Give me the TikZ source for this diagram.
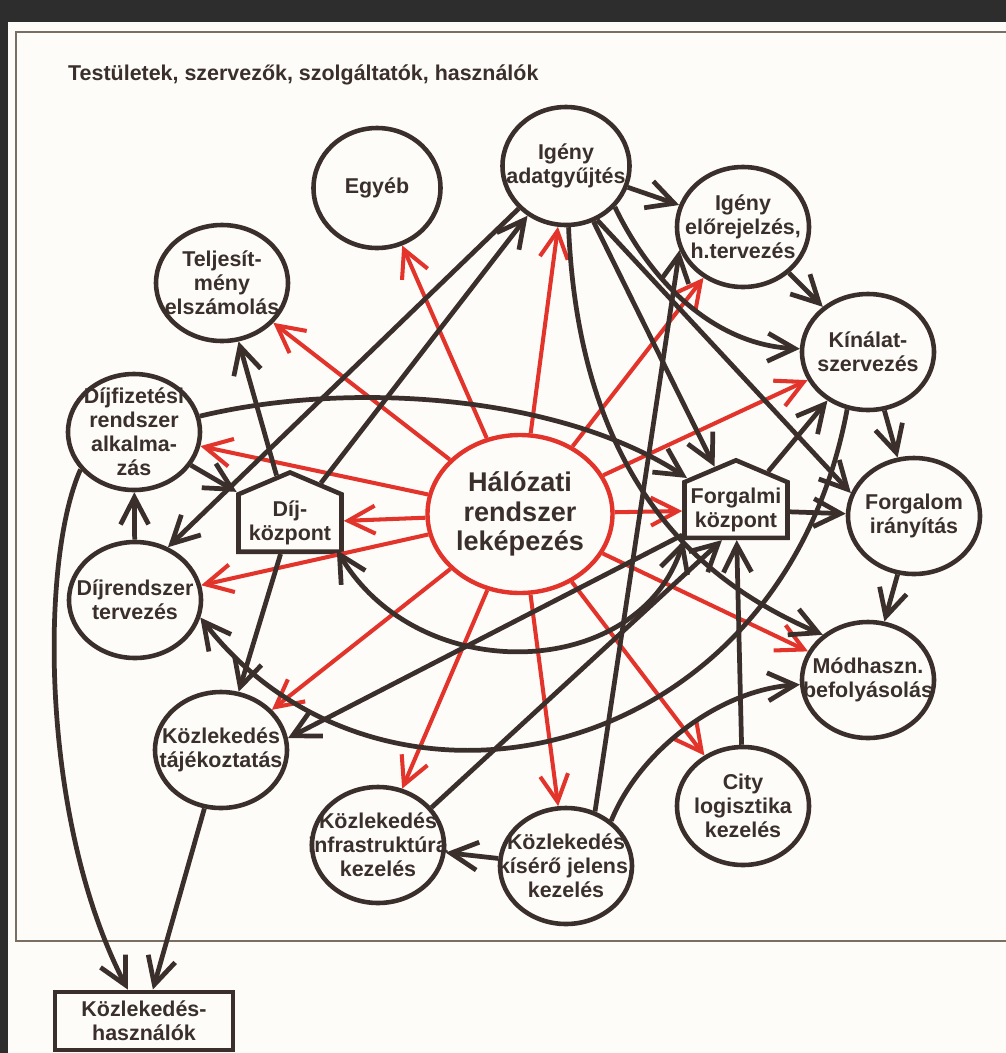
\documentclass[tikz,border=0pt]{standalone}
\usepackage{fontspec}
\setmainfont{Liberation Sans}
\usepackage{tikz}
\usetikzlibrary{shapes.geometric,shapes.symbols,arrows.meta}
\definecolor{sotet}{HTML}{3A2F2B}
\definecolor{piros}{HTML}{E2342B}
\definecolor{hatter}{HTML}{2D2D2D}
\definecolor{papir}{HTML}{FDFCF9}
\definecolor{keretszin}{HTML}{7A6E63}

\begin{document}
\begin{tikzpicture}[x=0.2mm,y=0.2mm]
      \tikzstyle{kor}=[ellipse, draw=sotet, line width=2.6pt, minimum width=26.4mm, minimum height=23.2mm, inner sep=-6mm, align=center, text=sotet, font=\bfseries\fontsize{12.2}{13.6}\selectfont]
      \tikzstyle{haz}=[signal, signal to=north, signal pointer angle=134, draw=sotet, line width=2.6pt, minimum width=20.6mm, minimum height=15.4mm, inner sep=1mm, align=center, text=sotet, font=\bfseries\fontsize{12.2}{13.6}\selectfont]
      \tikzstyle{doboz}=[rectangle, draw=sotet, line width=2.8pt, minimum width=35.6mm, minimum height=11.6mm, align=center, text=sotet, font=\bfseries\fontsize{12.2}{13.6}\selectfont]
      \tikzstyle{fleche}=[-{Straight Barb[length=5.4mm,width=5.6mm]}, draw=sotet, line width=2.7pt]
      \tikzstyle{ketfleche}=[{Straight Barb[length=5.4mm,width=5.6mm]}-{Straight Barb[length=5.4mm,width=5.6mm]}, draw=sotet, line width=2.7pt]
      \tikzstyle{pfleche}=[-{Straight Barb[length=5.4mm,width=5.6mm]}, draw=piros, line width=2.3pt]

      \useasboundingbox (0,0) rectangle (1006,-1053);
      \fill[hatter] (0,0) rectangle (1006,-1053);
      \fill[papir] (8,-22) rectangle (1006,-1053);
      \draw[keretszin, line width=1.2pt] (1006,-32) -- (16,-32) -- (16,-941) -- (1006,-941);

      \node[anchor=west, text=sotet, font=\bfseries\fontsize{12.2}{14}\selectfont] (cim) at (62,-75) {Testületek, szervezők, szolgáltatók, használók};

      \node[kor] (telj) at (222,-283) {Teljesít-\\mény\\elszámolás};
      \node[kor, minimum width=25.4mm, minimum height=24mm] (egyeb) at (377,-188) {Egyéb};
      \node[kor, minimum width=25.4mm, minimum height=23.6mm] (igad) at (566,-166) {Igény\\adatgyűjtés};
      \node[kor, minimum height=24mm] (igelo) at (743,-227) {Igény\\előrejelzés,\\h.tervezés};
      \node[kor] (kin) at (868,-352) {Kínálat-\\szervezés};
      \node[kor] (djfr) at (134,-432) {Díjfizetési\\rendszer\\alkalma-\\zás};
      \node[haz] (dij) at (290,-523) {Díj-\\központ};
      \node[kor] (djrt) at (135,-600) {Díjrendszer\\tervezés};
      \node[ellipse, draw=piros, line width=2.5pt, minimum width=37mm, minimum height=31.6mm, inner sep=-6mm, align=center, text=sotet, font=\bfseries\fontsize{15.4}{16.6}\selectfont] (hal) at (520,-514) {Hálózati\\rendszer\\leképezés};
      \node[haz] (forg) at (736,-510) {Forgalmi\\központ};
      \node[kor] (forir) at (914,-516) {Forgalom\\irányítás};
      \node[kor] (modh) at (868,-680) {Módhaszn.\\befolyásolás};
      \node[kor] (kozt) at (221,-750) {Közlekedés\\tájékoztatás};
      \node[kor] (infra) at (378,-845) {Közlekedés\\infrastruktúra\\kezelés};
      \node[kor] (kis) at (566,-866) {Közlekedés\\kísérő jelens.\\kezelés};
      \node[kor, minimum height=23.6mm] (city) at (743,-806) {City\\logisztika\\kezelés};
      \node[doboz] (kh) at (144,-1021) {Közlekedés-\\használók};

      \draw[pfleche] (hal)--(telj);
      \draw[pfleche] (hal)--(egyeb);
      \draw[pfleche] (hal)--(igad);
      \draw[pfleche] (hal)--(igelo);
      \draw[pfleche] (hal)--(kin);
      \draw[pfleche] (hal)--(forg);
      \draw[pfleche] (hal)--(modh);
      \draw[pfleche] (hal)--(city);
      \draw[pfleche] (hal)--(kis);
      \draw[pfleche] (hal)--(infra);
      \draw[pfleche] (hal)--(kozt);
      \draw[pfleche] (hal)--(djrt);
      \draw[pfleche] (hal)--(dij);
      \draw[pfleche] (hal)--(djfr);

      \draw[fleche] (igad)--(igelo);
      \draw[fleche] (igelo)--(kin);
      \draw[fleche] (kin)--(forir);
      \draw[fleche] (forir)--(modh);
      \draw[fleche] (igad.320) .. controls (655,-290) and (720,-345) .. (kin);
      \draw[fleche] (igad) .. controls (580,-500) and (720,-590) .. (modh.135);
      \draw[fleche] (igad)--(forg);
      \draw[fleche] (igad.300)--(forir.160);
      \draw[fleche] (igad.222)--(djrt.58);
      \draw[fleche] (dij)--(igad);
      \draw[fleche] (djfr)--(dij);
      \draw[fleche] (djrt)--(djfr);
      \draw[fleche] (dij)--(telj);
      \draw[fleche] (dij)--(kozt);
      \draw[fleche] (djfr) .. controls (350,-380) and (560,-395) .. (forg);
      \draw[ketfleche] (forg.-150) .. controls (640,-680) and (420,-690) .. (dij.-30);
      \draw[fleche] (forg.-155)--(kozt.10);
      \draw[fleche] (infra.35)--(forg.-115);
      \draw[fleche] (city)--(forg);
      \draw[fleche] (kis)--(infra);
      \draw[fleche] (kis.62)--(igelo.200);
      \draw[fleche] (kis.45) .. controls (640,-750) and (720,-690) .. (modh);
      \draw[fleche] (kin.250) .. controls (780,-770) and (380,-850) .. (djrt.-15);
      \draw[fleche] (forg)--(kin);
      \draw[fleche] (forg)--(forir);
      \draw[fleche] (djfr.215) .. controls (40,-560) and (40,-820) .. (kh);
      \draw[fleche] (kozt)--(kh);

    \end{tikzpicture}
\end{document}
